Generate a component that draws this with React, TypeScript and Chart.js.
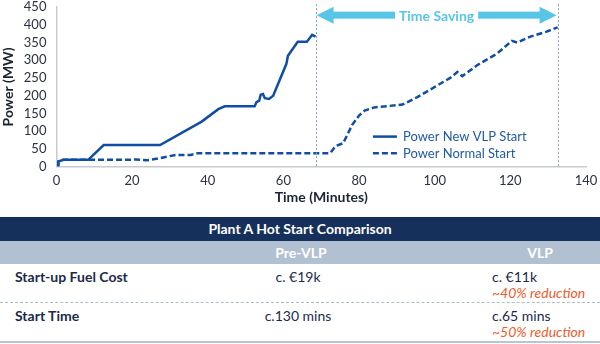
import React, { useEffect, useRef } from 'react';
import { Chart, registerables } from 'chart.js';

Chart.register(...registerables);

// ---- Data ----
const vlpMinutes = [0.5, 0.5, 1.8, 8.4, 12.5, 27.4, 38.4, 42.8, 44.5, 52.4, 52.9, 53.6, 54.0, 54.6, 55.1, 56.2, 57.3, 60.8, 61.2, 63.8, 66.2, 67.6, 68.5];
const vlpPower = [0, 14, 19, 19, 61, 61, 127, 162, 170, 170, 182, 186, 203, 205, 193, 191, 200, 290, 313, 352, 352, 372, 367];

const normalMinutes = [0.5, 0.5, 1.8, 8.4, 18, 21, 24, 27.4, 31.5, 35.5, 37.5, 68.5, 72.4, 73.8, 75.8, 78.2, 80, 81.5, 84, 91.5, 95.4, 100.7, 104.2, 106, 107.3, 111.2, 116.5, 120.4, 121.8, 125.3, 129.6, 132.5];
const normalPower = [0, 14, 19, 19, 19, 20, 18, 24, 33, 33, 38, 38, 38, 58, 66, 118, 144, 158, 167, 175, 196, 229, 251, 267, 255, 286, 319, 355, 350, 367, 381, 393];

const xTickValues = [0, 20, 40, 60, 80, 100, 120, 140];
const yTickValues = [0, 50, 100, 150, 200, 250, 300, 350, 400, 450];

const seriesLabels = ['Power New VLP Start', 'Power Normal Start'];
const savingRange = [68.5, 132.5];
const savingLabel = 'Time Saving';
const xTitle = 'Time (Minutes)';
const yTitle = 'Power (MW)';

const tableTitle = 'Plant A Hot Start Comparison';
const columnHeaders = ['Pre-VLP', 'VLP'];
const rowLabels = ['Start-up Fuel Cost', 'Start Time'];
const preVlpValues = ['c. €19k', 'c.130 mins'];
const vlpValues = ['c. €11k', 'c.65 mins'];
const reductions = ['~40% reduction', '~50% reduction'];

// ---- Styles ----
const LINE = '#0f4ea2';
const ARROW = '#56c5e8';
const FONT = 'Lato, "Open Sans", sans-serif';

const overlayPlugin = {
  id: 'overlay',
  afterDatasetsDraw(chart: any) {
    const { ctx, chartArea, scales } = chart;
    const xs = scales.x;
    const x1 = xs.getPixelForValue(savingRange[0]);
    const x2 = xs.getPixelForValue(savingRange[1]);
    ctx.save();
    ctx.strokeStyle = '#8d9db2';
    ctx.lineWidth = 1;
    ctx.setLineDash([2, 2]);
    for (const px of [x1, x2]) {
      const p = Math.round(px) + 0.5;
      ctx.beginPath();
      ctx.moveTo(p, chartArea.top - 3);
      ctx.lineTo(p, chartArea.bottom);
      ctx.stroke();
    }
    ctx.setLineDash([]);

    const ay = chartArea.top + 8;
    const head = 17;
    const hh = 8.5;
    const sh = 3.5;
    ctx.font = `bold 14px ${FONT}`;
    const tw = ctx.measureText(savingLabel).width;
    const cx = (x1 + x2) / 2;
    ctx.fillStyle = ARROW;
    ctx.beginPath();
    ctx.moveTo(x1 + 1, ay);
    ctx.lineTo(x1 + 1 + head, ay - hh);
    ctx.lineTo(x1 + 1 + head, ay + hh);
    ctx.closePath();
    ctx.fill();
    ctx.beginPath();
    ctx.moveTo(x2 - 1, ay);
    ctx.lineTo(x2 - 1 - head, ay - hh);
    ctx.lineTo(x2 - 1 - head, ay + hh);
    ctx.closePath();
    ctx.fill();
    const gapL = cx - tw / 2 - 4;
    const gapR = cx + tw / 2 + 4;
    ctx.fillRect(x1 + head, ay - sh, gapL - (x1 + head), sh * 2);
    ctx.fillRect(gapR, ay - sh, x2 - head - gapR, sh * 2);
    ctx.textAlign = 'center';
    ctx.textBaseline = 'middle';
    ctx.fillText(savingLabel, cx, ay + 1);

    const lx = chartArea.left + 316.5;
    const ly = chartArea.bottom - 30;
    ctx.strokeStyle = LINE;
    ctx.lineWidth = 2.5;
    ctx.font = `13px ${FONT}`;
    ctx.textAlign = 'left';
    ctx.fillStyle = '#1f5aa6';
    seriesLabels.forEach((lab, i) => {
      const y = ly + i * 16.6;
      ctx.setLineDash(i === 0 ? [] : [6, 3]);
      ctx.beginPath();
      ctx.moveTo(lx, y);
      ctx.lineTo(lx + 24, y);
      ctx.stroke();
      ctx.fillText(lab, lx + 30, y + 0.5);
    });
    ctx.restore();
  },
};

function ChartBlock() {
  const ref = useRef<HTMLCanvasElement | null>(null);
  useEffect(() => {
    if (!ref.current) return;
    Chart.defaults.font.family = FONT;
    const hiddenTicks = { display: true, drawOnChartArea: false, drawTicks: true, color: 'rgba(0,0,0,0)' };
    const chart = new Chart(ref.current, {
      type: 'line',
      data: {
        datasets: [
          {
            label: seriesLabels[0],
            data: vlpMinutes.map((m, i) => ({ x: m, y: vlpPower[i] })),
            borderColor: LINE,
            borderWidth: 2.5,
            pointRadius: 0,
            tension: 0,
          },
          {
            label: seriesLabels[1],
            data: normalMinutes.map((m, i) => ({ x: m, y: normalPower[i] })),
            borderColor: LINE,
            borderWidth: 2.5,
            borderDash: [6, 3],
            pointRadius: 0,
            tension: 0,
          },
        ],
      },
      options: {
        responsive: false,
        animation: false,
        layout: { padding: { left: 0, right: 14, top: 0, bottom: 0 } },
        plugins: { legend: { display: false }, tooltip: { enabled: false } },
        scales: {
          x: {
            type: 'linear',
            min: 0,
            max: 140,
            afterBuildTicks: (s: any) => {
              s.ticks = xTickValues.map((v) => ({ value: v }));
            },
            grid: { ...hiddenTicks, tickLength: 6 },
            border: { display: true, color: '#c6cbd1', width: 1.5 },
            ticks: { padding: 0, autoSkip: false, maxRotation: 0, font: { size: 13 }, color: '#2a3140' },
            title: {
              display: true,
              text: xTitle,
              font: { size: 14, weight: 'bold' },
              color: '#1b2433',
              padding: { top: 1, bottom: 0 },
            },
          },
          y: {
            min: 0,
            max: 450,
            afterBuildTicks: (s: any) => {
              s.ticks = yTickValues.map((v) => ({ value: v }));
            },
            grid: { ...hiddenTicks, tickLength: 10 },
            border: { display: true, color: '#c6cbd1', width: 1.5 },
            ticks: { padding: 0, autoSkip: false, font: { size: 13, lineHeight: 1.1 }, color: '#2a3140' },
            title: {
              display: true,
              text: yTitle,
              font: { size: 14, weight: 'bold' },
              color: '#1b2433',
              padding: { top: 0, bottom: 7 },
            },
          },
        },
      },
      plugins: [overlayPlugin],
    } as any);
    return () => chart.destroy();
  }, []);
  return <canvas ref={ref} width={600} height={206} style={{ position: 'absolute', left: 0, top: 0 }} />;
}

const txt: React.CSSProperties = {
  position: 'absolute',
  fontFamily: FONT,
  fontSize: 14,
  lineHeight: '16px',
  whiteSpace: 'nowrap',
  color: '#1a2b4a',
};

export default function App() {
  useEffect(() => {
    document.body.style.margin = '0';
  }, []);
  const rowY = [277, 316];
  return (
    <div style={{ position: 'relative', width: 600, height: 344, overflow: 'hidden', background: '#fff' }}>
      <ChartBlock />
      <div style={{ position: 'absolute', left: 0, top: 217, width: 600, height: 24, background: '#15315b' }} />
      <div style={{ ...txt, left: 0, width: 600, top: 221, textAlign: 'center', color: '#fff', fontWeight: 700 }}>{tableTitle}</div>
      <div style={{ position: 'absolute', left: 0, top: 241, width: 600, height: 23, background: '#b2c1d1' }} />
      <div style={{ ...txt, left: 201, width: 200, top: 245, textAlign: 'center', color: '#fff', fontWeight: 700 }}>{columnHeaders[0]}</div>
      <div style={{ ...txt, left: 490, width: 100, top: 245, textAlign: 'center', color: '#fff', fontWeight: 700 }}>{columnHeaders[1]}</div>
      {rowLabels.map((lab, i) => (
        <React.Fragment key={lab}>
          <div style={{ ...txt, left: 15, top: rowY[i] - 8, fontWeight: 700 }}>{lab}</div>
          <div style={{ ...txt, left: 198, width: 200, top: rowY[i] - 8, textAlign: 'center' }}>{preVlpValues[i]}</div>
          <div style={{ ...txt, left: 492, top: rowY[i] - 8 }}>{vlpValues[i]}</div>
          <div style={{ ...txt, left: 492, top: rowY[i] + 8, color: '#f05a2a', fontStyle: 'italic' }}>{reductions[i]}</div>
        </React.Fragment>
      ))}
      <div style={{ position: 'absolute', left: 0, top: 302, width: 600, height: 0, borderTop: '1px dashed #a9bccd' }} />
      <div style={{ position: 'absolute', left: 0, top: 341, width: 600, height: 0, borderTop: '2px solid #b8c5d2' }} />
    </div>
  );
}
